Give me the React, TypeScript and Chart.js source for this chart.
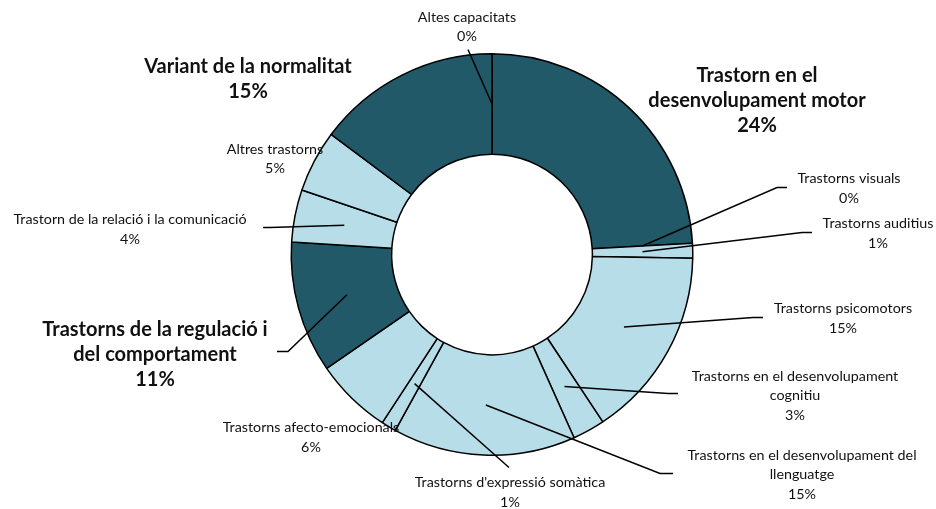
import React, { useEffect, useRef } from "react";
import { Chart, registerables } from "chart.js";

Chart.register(...registerables);

// ---- DATA ----
const categories: (string | string[])[] = [
  ["Trastorn en el", "desenvolupament motor"],
  "Trastorns visuals",
  "Trastorns auditius",
  "Trastorns psicomotors",
  ["Trastorns en el desenvolupament", "cognitiu"],
  ["Trastorns en el desenvolupament del", "llenguatge"],
  "Trastorns d'expressió somàtica",
  "Trastorns afecto-emocionals",
  ["Trastorns de la regulació i", "del comportament"],
  "Trastorn de la relació i la comunicació",
  "Altres trastorns",
  "Variant de la normalitat",
  "Altes capacitats",
];
const values: number[] = [24.1, 0, 1.2, 15.4, 2.6, 14.7, 1.2, 6.2, 10.6, 4.2, 5.0, 14.8, 0];
const highlighted: boolean[] = [true, false, false, false, false, false, false, false, true, false, false, true, false];

// ---- STYLE / LAYOUT ----
const DARK = "#215968";
const LIGHT = "#b7dee8";
const FONT = "Lato, 'Open Sans', sans-serif";

type Pt = [number, number];
interface LabelLayout {
  pos: Pt; // text block center relative to doughnut center
  elbow?: Pt;
  end?: Pt;
}
const labelLayout: LabelLayout[] = [
  { pos: [265, -154] },
  { pos: [357, -66], elbow: [285, -67], end: [295, -67] },
  { pos: [386, -21], elbow: [310, -22], end: [320, -22] },
  { pos: [351, 64], elbow: [261, 63], end: [271, 63] },
  { pos: [303, 141], elbow: [176, 139], end: [186, 139] },
  { pos: [310, 220], elbow: [168, 219], end: [181, 219] },
  { pos: [18, 238], elbow: [17, 213], end: [17, 213] },
  { pos: [-181, 183] },
  { pos: [-337, 100], elbow: [-204, 97], end: [-215, 97] },
  { pos: [-362, -25], elbow: [-222, -27], end: [-229, -27] },
  { pos: [-217, -95.5] },
  { pos: [-244, -175] },
  { pos: [-25, -227.5], elbow: [-24, -205], end: [-24, -205] },
];

const labelPlugin = {
  id: "sliceLabels",
  afterDatasetsDraw(chart: any) {
    const meta = chart.getDatasetMeta(0);
    const ctx: CanvasRenderingContext2D = chart.ctx;
    const ca = chart.chartArea;
    const cx = (ca.left + ca.right) / 2;
    const cy = (ca.top + ca.bottom) / 2;
    const total = values.reduce((a, b) => a + b, 0);
    ctx.save();
    meta.data.forEach((arc: any, i: number) => {
      const lay = labelLayout[i];
      if (lay.elbow && lay.end) {
        const p = arc.tooltipPosition(false);
        ctx.beginPath();
        ctx.strokeStyle = "#000";
        ctx.lineWidth = 1.5;
        ctx.moveTo(p.x, p.y);
        ctx.lineTo(cx + lay.elbow[0], cy + lay.elbow[1]);
        ctx.lineTo(cx + lay.end[0], cy + lay.end[1]);
        ctx.stroke();
      }
    });
    meta.data.forEach((arc: any, i: number) => {
      const lay = labelLayout[i];
      const name = categories[i];
      const lines = (Array.isArray(name) ? [...name] : [name]);
      lines.push(Math.round((values[i] / total) * 100) + "%");
      const bold = highlighted[i];
      const size = bold ? 20 : 14.3;
      const lh = bold ? 25 : 19.5;
      ctx.font = `${bold ? "bold " : ""}${size}px ${FONT}`;
      ctx.fillStyle = "#111";
      ctx.textAlign = "center";
      ctx.textBaseline = "middle";
      const x = cx + lay.pos[0];
      const y0 = cy + lay.pos[1] - ((lines.length - 1) * lh) / 2;
      lines.forEach((ln, k) => ctx.fillText(ln, x, y0 + k * lh));
    });
    ctx.restore();
  },
};

export default function App() {
  const ref = useRef<HTMLCanvasElement | null>(null);
  useEffect(() => {
    if (!ref.current) return;
    const chart = new Chart(ref.current, {
      type: "doughnut",
      data: {
        labels: categories.map((c) => (Array.isArray(c) ? c.join(" ") : c)),
        datasets: [
          {
            data: values,
            backgroundColor: highlighted.map((h) => (h ? DARK : LIGHT)),
            borderColor: "#000",
            borderWidth: 1.5,
          },
        ],
      },
      options: {
        responsive: false,
        animation: false,
        cutout: "50%",
        layout: { padding: { top: 53, bottom: 53, left: 100, right: 52 } },
        plugins: {
          legend: { display: false },
          tooltip: { enabled: false },
        },
      },
      plugins: [labelPlugin],
    });
    return () => chart.destroy();
  }, []);
  return (
    <div style={{ position: "fixed", left: 0, top: 0, width: 936, height: 509, background: "#fff" }}>
      <canvas ref={ref} width={936} height={509} style={{ width: 936, height: 509 }} />
    </div>
  );
}
